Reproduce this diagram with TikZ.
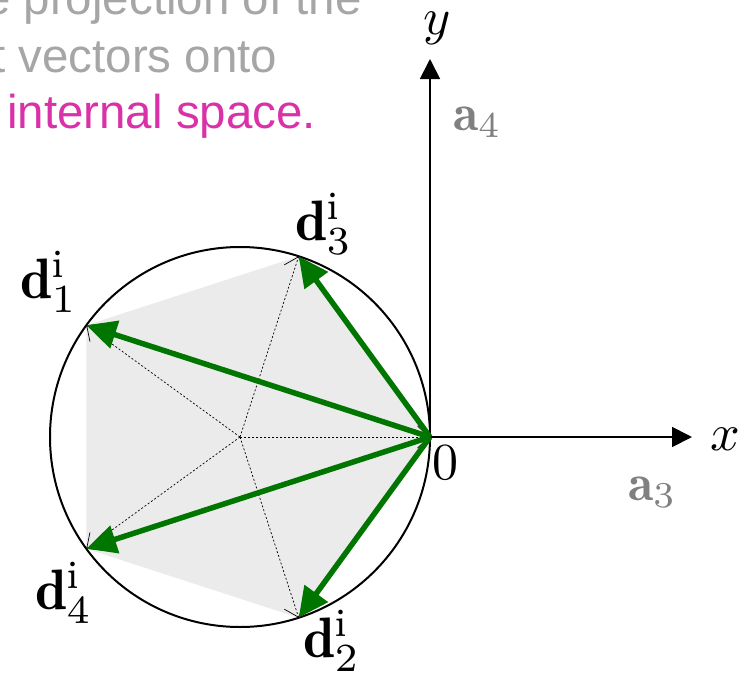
\documentclass[tikz,border=0pt]{standalone}
\usepackage{fontspec}
\newfontfamily\arialf{Liberation Sans}
\usetikzlibrary{arrows.meta}
\definecolor{vgreen}{RGB}{0,118,0}
\definecolor{txtgray}{RGB}{166,166,166}
\definecolor{txtmag}{RGB}{217,50,168}
\definecolor{polyfill}{RGB}{235,235,235}
\definecolor{agray}{RGB}{128,128,128}
\begin{document}
\begin{tikzpicture}[x=1pt,y=-1pt,
  vec/.style={vgreen,line width=5.5pt,-{Triangle[length=30pt,width=28pt]}},
  guide/.style={black,line width=0.7pt,dash pattern=on 2pt off 2pt,-{Straight Barb[length=12pt,width=22pt]}},
  axis/.style={black,line width=1.8pt,-{Triangle[length=20pt,width=20pt]}},
  mlab/.style={inner sep=0pt,scale=5.2,anchor=base},
  dlab/.style={inner sep=0pt,scale=5.7,anchor=base west},
  alab/.style={inner sep=0pt,scale=5.2,anchor=base west,text=agray},
  captxt/.style={inner sep=0pt,anchor=base west,font=\arialf\fontsize{47.5}{56}\selectfont}
]
\useasboundingbox (0,0) rectangle (744,677);
% geometry
\coordinate (C) at (240,437);
\coordinate (O) at (430,437);
\coordinate (D3) at (298.7,256.3);
\coordinate (D1) at (86.3,325.3);
\coordinate (D4) at (86.3,548.7);
\coordinate (D2) at (298.7,617.7);
\coordinate (XE) at (692,437);
\coordinate (YE) at (430,59);
% pentagon
\fill[polyfill] (D1) -- (D3) -- (O) -- (D2) -- (D4) -- cycle;
% circle
\draw[line width=2pt] (C) circle[radius=190];
% guides
\foreach \p in {D1,D2,D3,D4,O} \draw[guide] (C) -- (\p);
% axes
\draw[axis] (O) -- (XE);
\draw[axis] (O) -- (YE);
% vectors
\foreach \p in {D1,D2,D3,D4} \draw[vec] (O) -- (\p);
% labels
\node[mlab] (ylab) at (437,35) {$y$};
\node[mlab] (xlab) at (725,450) {$x$};
\node[mlab] (zlab) at (445,479) {$0$};
\node[alab] (a4) at (452,130) {$\mathbf{a}_4$};
\node[alab] (a3) at (627,500) {$\mathbf{a}_3$};
\node[dlab] (l1) at (19,298) {$\mathbf{d}^{\mathrm{i}}_{1}$};
\node[dlab] (l3) at (294,240) {$\mathbf{d}^{\mathrm{i}}_{3}$};
\node[dlab] (l4) at (34,609) {$\mathbf{d}^{\mathrm{i}}_{4}$};
\node[dlab] (l2) at (302,657) {$\mathbf{d}^{\mathrm{i}}_{2}$};
% caption fragments
\begin{scope}
\clip (0,0) rectangle (744,677);
\node[captxt,text=txtgray] (c1) at (-16,15) {e projection of the};
\node[captxt,text=txtgray] (c2) at (-8,72) {t vectors onto};
\node[captxt,text=txtmag] (c3) at (7,128) {internal space.};
\end{scope}
\end{tikzpicture}
\end{document}
